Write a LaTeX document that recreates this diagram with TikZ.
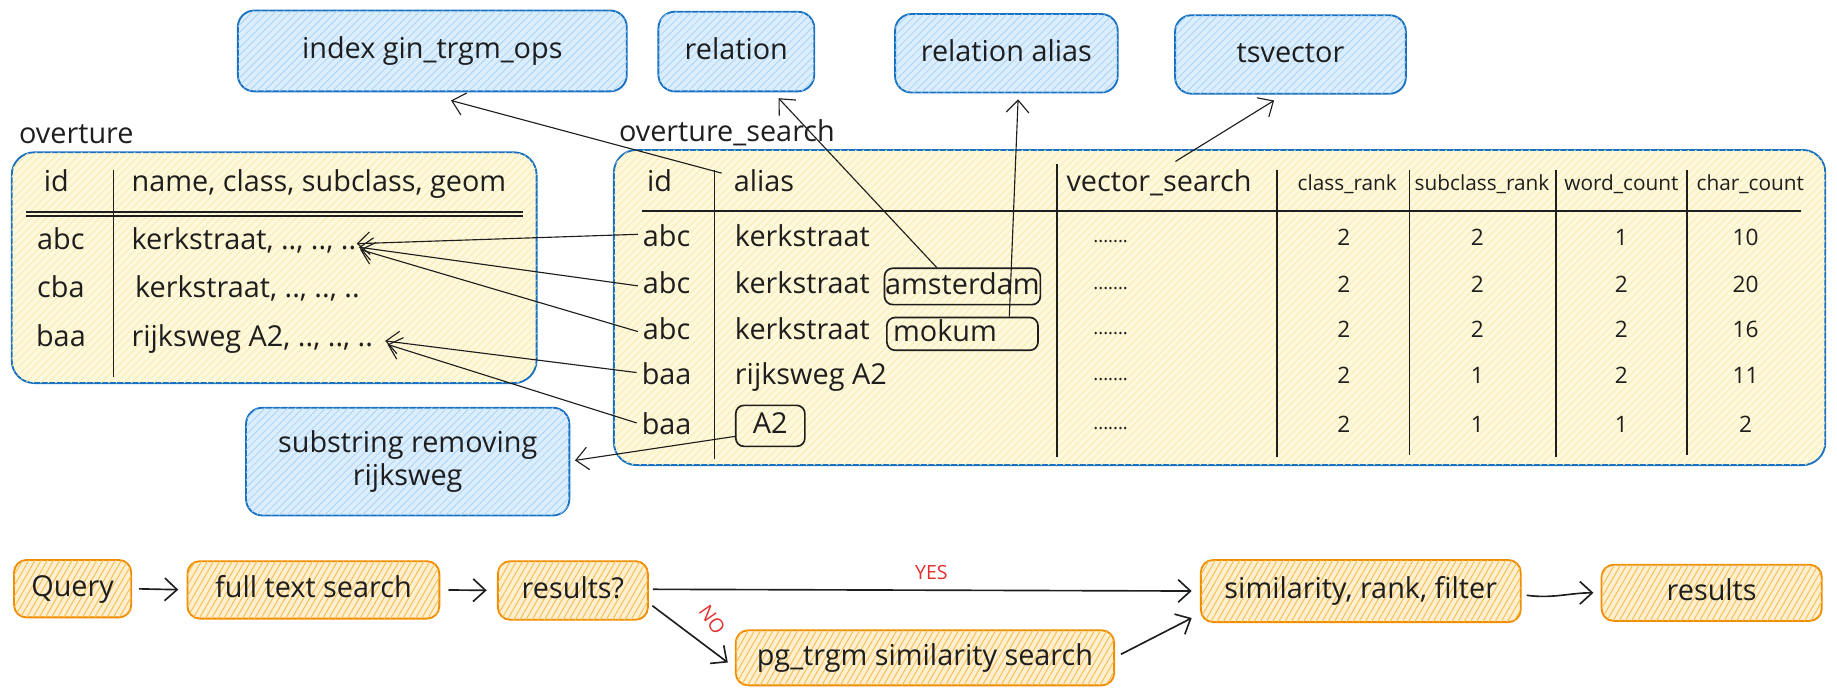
\documentclass[tikz,border=0pt]{standalone}
\usepackage{fontspec}
\setmainfont{Open Sans}
\usetikzlibrary{arrows.meta,patterns.meta}
\definecolor{blueline}{HTML}{1971C2}
\definecolor{bluefill}{HTML}{DCEDFC}
\definecolor{bluehatch}{HTML}{A9D5FA}
\definecolor{yelfill}{HTML}{FEF8DC}
\definecolor{yelhatch}{HTML}{F9EBB0}
\definecolor{orline}{HTML}{F08C00}
\definecolor{orfill}{HTML}{FDEFCF}
\definecolor{orhatch}{HTML}{F6BE4F}
\definecolor{ink}{HTML}{1E1E1E}
\definecolor{redlab}{HTML}{E03131}
\def\pxu{0.02cm}
\tikzset{
  every node/.style={text=ink, inner sep=0pt},
  txt/.style={font=\fontsize{14}{17}\selectfont, text height=10.5pt, text depth=3pt},
  small/.style={font=\fontsize{11}{13}\selectfont, text height=8pt, text depth=2pt},
  hdrsmall/.style={font=\fontsize{10.1}{12}\selectfont, text height=8pt, text depth=2pt},
  dotsty/.style={font=\fontsize{9}{11}\selectfont},
  lab/.style={font=\fontsize{9.5}{11}\selectfont, text=redlab},
  bluebox/.style={draw=blueline, line width=0.9pt, rounded corners=8pt, fill=bluefill,
    postaction={pattern={Lines[angle=45,distance=2.6pt,line width=0.4pt]}, pattern color=bluehatch}},
  yelbox/.style={draw=blueline, line width=0.9pt, rounded corners=11pt, fill=yelfill,
    postaction={pattern={Lines[angle=45,distance=2.6pt,line width=0.4pt]}, pattern color=yelhatch}},
  orbox/.style={draw=orline, line width=0.9pt, rounded corners=6pt, fill=orfill,
    postaction={pattern={Lines[angle=60,distance=2.6pt,line width=0.45pt]}, pattern color=orhatch}},
  tagbox/.style={draw=ink, line width=0.8pt, rounded corners=4pt},
  tline/.style={draw=ink, line width=0.8pt},
  conn/.style={draw=ink, line width=0.55pt, -{Straight Barb[length=6pt,width=11pt,line width=0.55pt]}},
  flow/.style={draw=ink, line width=0.8pt, -{Straight Barb[length=6pt,width=11pt,line width=0.8pt]}},
}
\begin{document}
\begin{tikzpicture}[x=0.02cm,y=-0.02cm]
\useasboundingbox (0,0) rectangle (1568,594);

% ---- top blue boxes
\node[bluebox, txt, minimum width=332*\pxu, minimum height=69*\pxu] (idx) at (369,43.5) {index gin\_trgm\_ops};
\node[bluebox, txt, minimum width=133*\pxu, minimum height=68*\pxu] (rel) at (628.5,44) {relation};
\node[bluebox, txt, minimum width=190*\pxu, minimum height=67*\pxu] (rela) at (859,45.5) {relation alias};
\node[bluebox, txt, minimum width=197*\pxu, minimum height=67*\pxu] (tsv) at (1101.5,46.5) {tsvector};

% ---- labels
\node[txt, anchor=west] (ovlab) at (16,116) {overture};
\node[txt, anchor=west] (oslab) at (528,114) {overture\_search};

% ---- overture table
\node[yelbox, minimum width=448*\pxu, minimum height=197*\pxu] (ovbox) at (234,228.5) {};
\node[txt] (ovidh) at (48,157) {id};
\node[txt, anchor=west] (ovnameh) at (112,157) {name, class, subclass, geom};
\draw[tline] (97,145) -- (97,322);
\draw[tline] (22,181) -- (446,181);
\draw[tline] (22,184.5) -- (446,184.5);
\node[txt] (ovid1) at (52,206) {abc};
\node[txt] (ovid2) at (52,247) {cba};
\node[txt] (ovid3) at (52,289) {baa};
\node[txt, anchor=west] (ovrow1) at (112,206) {kerkstraat, .., .., ..};
\node[txt, anchor=west] (ovrow2) at (115,247) {kerkstraat, .., .., ..};
\node[txt, anchor=west] (ovrow3) at (112,289) {rijksweg A2, .., .., ..};

% ---- overture_search table
\node[yelbox, minimum width=1034*\pxu, minimum height=269*\pxu] (osbox) at (1041,262.5) {};
\node[txt] (osidh) at (563,157) {id};
\node[txt, anchor=west] (alhdr) at (626,157) {alias};
\node[txt, anchor=west] (vshdr) at (910,157) {vector\_search};
\node[hdrsmall] (crh) at (1150,157) {class\_rank};
\node[hdrsmall] (srh) at (1265,157) {subclass\_rank};
\node[hdrsmall] (wch) at (1384,157) {word\_count};
\node[hdrsmall] (cch) at (1494,157) {char\_count};
\draw[tline] (548,180) -- (1537,180);
\draw[tline] (610,145) -- (610,392);
\draw[tline] (902,140) -- (902,390);
\draw[tline] (1090,145) -- (1090,390);
\draw[tline] (1203,145) -- (1203,388);
\draw[tline] (1328,145) -- (1328,390);
\draw[tline] (1440,145) -- (1440,388);

\node[txt] (sid1) at (569,204) {abc};
\node[txt] (sid2) at (569,244) {abc};
\node[txt] (sid3) at (569,283) {abc};
\node[txt] (sid4) at (569,322) {baa};
\node[txt] (sid5) at (569,364) {baa};

\node[txt, anchor=west] (al1) at (627,204) {kerkstraat};
\node[txt, anchor=west] (al2) at (627,244) {kerkstraat};
\node[txt, anchor=west] (al3) at (627,283) {kerkstraat};
\node[txt, anchor=west] (al4) at (627,322) {rijksweg A2};
\node[tagbox, txt, minimum width=133*\pxu, minimum height=31*\pxu] (amst) at (821.5,244.5) {amsterdam};
\node[tagbox, minimum width=129*\pxu, minimum height=28*\pxu] (mok) at (821.5,285) {};
\node[txt, anchor=west] (moktxt) at (762,285) {mokum};
\node[tagbox, txt, minimum width=59*\pxu, minimum height=35*\pxu] (a2box) at (657.5,363.5) {A2};

\foreach \r/\y/\a/\b/\c/\d in {1/204/2/2/1/10, 2/244/2/2/2/20, 3/283/2/2/2/16, 4/322/2/1/2/11, 5/364/2/1/1/2}{
  \node[dotsty] (vs\r) at (948,\y+2) {.......};
  \node[small] (cr\r) at (1147,\y) {\a};
  \node[small] (sr\r) at (1261,\y) {\b};
  \node[small] (wc\r) at (1384,\y) {\c};
  \node[small] (cc\r) at (1490,\y) {\d};
}

% ---- substring box
\node[bluebox, txt, align=center, minimum width=276*\pxu, minimum height=92*\pxu, text height=, text depth=] (sub) at (348,394) {substring removing\\[-1pt]rijksweg};

% ---- upper connectors
\draw[conn] ([xshift=-10*\pxu,yshift=-3*\pxu]alhdr.north west) -- ([xshift=16*\pxu,yshift=-7*\pxu]idx.south);
\draw[conn] ([xshift=-22*\pxu]amst.north) -- ([xshift=36*\pxu,yshift=-5*\pxu]rel.south);
\draw[conn] ([xshift=40*\pxu]mok.north) -- ([xshift=10*\pxu,yshift=-5*\pxu]rela.south);
\draw[conn] ([xshift=14*\pxu,yshift=7*\pxu]vshdr.north) -- ([xshift=-14*\pxu,yshift=-5*\pxu]tsv.south);

\draw[conn] ([xshift=-4*\pxu,yshift=4*\pxu]sid1.west) -- ([xshift=0*\pxu,yshift=-2*\pxu]ovrow1.east);
\draw[conn] ([xshift=-4*\pxu]sid2.west) -- ([xshift=2*\pxu,yshift=-5*\pxu]ovrow1.east);
\draw[conn] ([xshift=-4*\pxu]sid3.west) -- ([xshift=3*\pxu,yshift=-7*\pxu]ovrow1.east);
\draw[conn] ([xshift=-4*\pxu,yshift=4*\pxu]sid4.west) -- ([xshift=10*\pxu,yshift=-2*\pxu]ovrow3.east);
\draw[conn] ([xshift=-4*\pxu,yshift=3*\pxu]sid5.west) -- ([xshift=12*\pxu,yshift=-5*\pxu]ovrow3.east);

\draw[conn] ([yshift=-9*\pxu]a2box.west) -- ([xshift=4*\pxu,yshift=1*\pxu]sub.east);

% ---- bottom flow
\node[orbox, txt, minimum width=100*\pxu, minimum height=49*\pxu] (q) at (62,502.5) {Query};
\node[orbox, txt, minimum width=215*\pxu, minimum height=49*\pxu] (fts) at (267.5,503.5) {full text search};
\node[orbox, txt, minimum width=128*\pxu, minimum height=50*\pxu] (res) at (489,504) {results?};
\node[orbox, txt, minimum width=273*\pxu, minimum height=53*\pxu] (sim) at (1161.5,504.5) {similarity, rank, filter};
\node[orbox, txt, minimum width=188*\pxu, minimum height=48*\pxu] (res2) at (1461,506) {results};
\node[orbox, txt, minimum width=323*\pxu, minimum height=47*\pxu] (pg) at (789.5,561.5) {pg\_trgm similarity search};

\draw[flow, shorten <=3.4pt, shorten >=4pt] (q.east) -- (fts.west);
\draw[flow, shorten <=4pt, shorten >=5pt] (fts.east) -- (res.west);
\draw[flow, shorten <=2pt, shorten >=4pt] ([yshift=1*\pxu]res.east) -- (sim.west);
\node[lab] (yes) at (795,489) {YES};
\draw[flow] ([xshift=3*\pxu,yshift=-13*\pxu]res.east) -- ([xshift=-6*\pxu,yshift=-4*\pxu]pg.west);
\node[lab, rotate=-55] (no) at (608,529) {NO};
\draw[flow] ([xshift=5*\pxu,yshift=3*\pxu]pg.east) -- ([xshift=-7*\pxu,yshift=-23*\pxu]sim.west);
\draw[flow, shorten <=2.5pt, shorten >=3.5pt] ([yshift=-3*\pxu]sim.east) to[out=-8,in=180] (res2.west);
\end{tikzpicture}
\end{document}
